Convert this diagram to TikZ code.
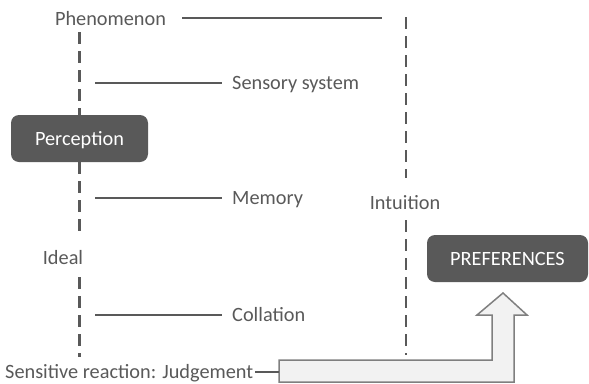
\documentclass[tikz,border=0pt]{standalone}
\usepackage{fontspec}
\setmainfont{Carlito}
\definecolor{ink}{HTML}{595959}
\definecolor{arrowfill}{HTML}{F2F2F2}
\definecolor{arrowline}{HTML}{7F7F7F}
\begin{document}
\begin{tikzpicture}[x=1pt,y=-1pt,
  txt/.style={font=\fontsize{20.3}{24}\selectfont, inner sep=0pt, text height=13pt, text depth=0pt},
  lbl/.style={txt, text=ink},
  box/.style={txt, fill=ink, text=white, rounded corners=8pt, minimum height=47pt},
  guide/.style={draw=ink, line width=2.8pt, dash pattern=on 12pt off 7pt},
  tie/.style={draw=ink, line width=1.5pt},
  bigarrow/.style={draw=arrowline, fill=arrowfill, line width=1.5pt, line join=miter}]
\useasboundingbox (0,0) rectangle (589,383);

% labels
\node[lbl] (phen) at (110.5,19) {Phenomenon};
\node[lbl, anchor=west] (sens) at (232,83) {Sensory system};
\node[lbl, anchor=west] (mem) at (232,198) {Memory};
\node[lbl, anchor=west] (coll) at (232,315) {Collation};
\node[lbl] (ideal) at (63,258) {Ideal};
\node[lbl] (intu) at (405,203) {Intuition};
\node[lbl, anchor=west] (judg) at (5,372) {Sensitive reaction: Judgement};

% boxes
\node[box, minimum width=137pt] (perc) at (79.5,138.5) {Perception};
\node[box, minimum width=161pt] (pref) at (507.5,258.5) {PREFERENCES};

% left dashed axis
\coordinate (leftTop) at (79.5,32);
\coordinate (leftMid) at (79.5,233);
\coordinate (leftLow) at (79.5,277);
\coordinate (leftEnd) at (79.5,357);
\draw[guide] (leftTop) -- (perc.north);
\draw[guide] (perc.south) -- (leftMid);
\draw[guide] (leftLow) -- (leftEnd);

% right dashed axis
\coordinate (rightTop) at (406,17);
\coordinate (rightMid) at (406,178);
\coordinate (rightLow) at (406,220);
\coordinate (rightEnd) at (406,355);
\draw[guide] (rightTop) -- (rightMid);
\draw[guide] (rightLow) -- (rightEnd);

% horizontal ties
\coordinate (phenEnd) at (382,18);
\draw[tie] ([xshift=16pt]phen.east |- phenEnd) -- (phenEnd);
\coordinate (sensStart) at (95,83);
\draw[tie] (sensStart) -- ([xshift=-10pt]sens.west);
\coordinate (memStart) at (95,198);
\draw[tie] (memStart) -- ([xshift=-10pt]mem.west);
\coordinate (collStart) at (95,315);
\draw[tie] (collStart) -- ([xshift=-10pt]coll.west);

% bent arrow leading up to the preferences
\draw[bigarrow] (279,360) -- (492,360) -- (492,315) -- (477,315) -- (503,293)
  -- (527,315) -- (514,315) -- (514,382) -- (279,382) -- cycle;
\coordinate (arrowIn) at (279,372);
\draw[tie] ([xshift=2pt]judg.east) -- (arrowIn);
\end{tikzpicture}
\end{document}
